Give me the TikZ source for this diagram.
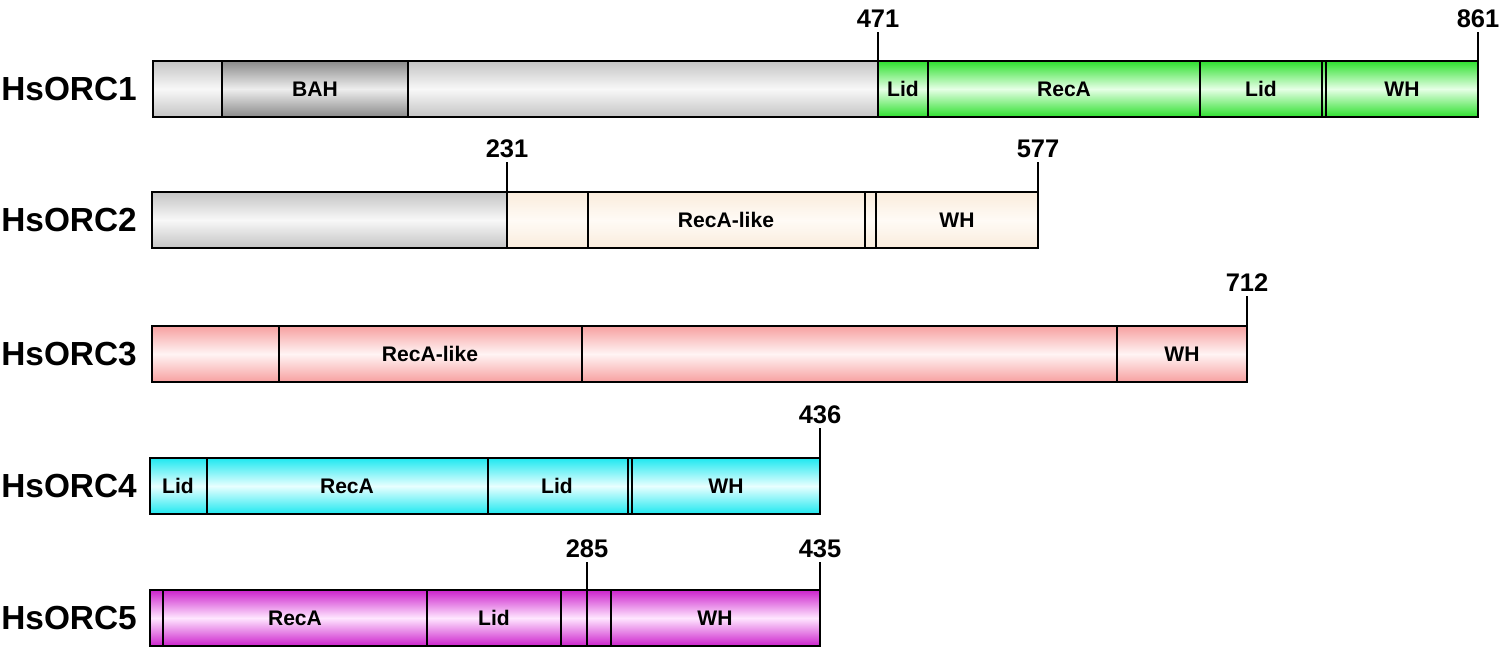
\documentclass[tikz,border=0pt]{standalone}
\usepackage{fontspec}
\setmainfont{Liberation Sans}
\definecolor{gE}{HTML}{C4C4C4}
\definecolor{gM}{HTML}{F8F8F8}
\definecolor{bE}{HTML}{8A8A8A}
\definecolor{bM}{HTML}{EEEEEE}
\definecolor{grE}{HTML}{2EE02E}
\definecolor{grM}{HTML}{E6FFE6}
\definecolor{tE}{HTML}{FAECDC}
\definecolor{tM}{HTML}{FFFBF6}
\definecolor{pE}{HTML}{F7A0A0}
\definecolor{pM}{HTML}{FFF4F4}
\definecolor{cE}{HTML}{1EE8F0}
\definecolor{cM}{HTML}{E8FFFF}
\definecolor{mE}{HTML}{CC22CC}
\definecolor{mM}{HTML}{FFE6FF}
\tikzset{
  box/.style={draw=black, line width=1.3pt},
  sgray/.style={box, top color=gE, bottom color=gE, middle color=gM},
  sbah/.style={box, top color=bE, bottom color=bE, middle color=bM},
  sgreen/.style={box, top color=grE, bottom color=grE, middle color=grM},
  stan/.style={box, top color=tE, bottom color=tE, middle color=tM},
  spink/.style={box, top color=pE, bottom color=pE, middle color=pM},
  scyan/.style={box, top color=cE, bottom color=cE, middle color=cM},
  smag/.style={box, top color=mE, bottom color=mE, middle color=mM},
  dom/.style={font=\bfseries\fontsize{12}{14}\selectfont, inner sep=0pt},
  num/.style={font=\bfseries\fontsize{14.5}{16}\selectfont, anchor=south, inner sep=0pt},
  pname/.style={font=\bfseries\fontsize{19}{22}\selectfont, anchor=west, inner sep=0pt},
  tick/.style={line width=1.3pt}
}
\newcommand\seg[4]{\path[#4] (#1,#3) rectangle (#2,#3+56);}
\begin{document}
\begin{tikzpicture}[x=0.02cm, y=-0.02cm]
\useasboundingbox (0,0) rectangle (1500,653);
% ---------- HsORC1 ----------
\seg{153}{222}{61}{sgray}
\seg{222}{408}{61}{sbah}
\seg{408}{878}{61}{sgray}
\seg{878}{928}{61}{sgreen}
\seg{928}{1200}{61}{sgreen}
\seg{1200}{1322}{61}{sgreen}
\seg{1322}{1326}{61}{sgreen}
\seg{1326}{1478}{61}{sgreen}
\node[pname] (n1) at (1,89) {HsORC1};
\node[dom] (d1a) at (315,89) {BAH};
\node[dom] (d1b) at (903,89) {Lid};
\node[dom] (d1c) at (1064,89) {RecA};
\node[dom] (d1d) at (1261,89) {Lid};
\node[dom] (d1e) at (1402,89) {WH};
\coordinate (t1a) at (878,61); \coordinate (u1a) at (878,32);
\coordinate (t1b) at (1478,61); \coordinate (u1b) at (1478,32);
\draw[tick] (t1a) -- (u1a); \draw[tick] (t1b) -- (u1b);
\node[num] (l1a) at (878,28) {471};
\node[num] (l1b) at (1478,28) {861};
% ---------- HsORC2 ----------
\seg{152}{507}{192}{sgray}
\seg{507}{588}{192}{stan}
\seg{588}{865}{192}{stan}
\seg{865}{876}{192}{stan}
\seg{876}{1038}{192}{stan}
\node[pname] (n2) at (1,220) {HsORC2};
\node[dom] (d2a) at (726,220) {RecA-like};
\node[dom] (d2b) at (957,220) {WH};
\coordinate (t2a) at (507,192); \coordinate (u2a) at (507,162);
\coordinate (t2b) at (1038,192); \coordinate (u2b) at (1038,162);
\draw[tick] (t2a) -- (u2a); \draw[tick] (t2b) -- (u2b);
\node[num] (l2a) at (507,158) {231};
\node[num] (l2b) at (1038,158) {577};
% ---------- HsORC3 ----------
\seg{152}{279}{326}{spink}
\seg{279}{582}{326}{spink}
\seg{582}{1117}{326}{spink}
\seg{1117}{1247}{326}{spink}
\node[pname] (n3) at (1,354) {HsORC3};
\node[dom] (d3a) at (430,354) {RecA-like};
\node[dom] (d3b) at (1182,354) {WH};
\coordinate (t3a) at (1247,326); \coordinate (u3a) at (1247,296);
\draw[tick] (t3a) -- (u3a);
\node[num] (l3a) at (1247,292) {712};
% ---------- HsORC4 ----------
\seg{150}{207}{458}{scyan}
\seg{207}{488}{458}{scyan}
\seg{488}{628}{458}{scyan}
\seg{628}{632}{458}{scyan}
\seg{632}{820}{458}{scyan}
\node[pname] (n4) at (1,486) {HsORC4};
\node[dom] (d4a) at (178,486) {Lid};
\node[dom] (d4b) at (347,486) {RecA};
\node[dom] (d4c) at (557,486) {Lid};
\node[dom] (d4d) at (726,486) {WH};
\coordinate (t4a) at (820,458); \coordinate (u4a) at (820,428);
\draw[tick] (t4a) -- (u4a);
\node[num] (l4a) at (820,424) {436};
% ---------- HsORC5 ----------
\seg{150}{163}{590}{smag}
\seg{163}{427}{590}{smag}
\seg{427}{561}{590}{smag}
\seg{561}{587}{590}{smag}
\seg{587}{611}{590}{smag}
\seg{611}{820}{590}{smag}
\node[pname] (n5) at (1,618) {HsORC5};
\node[dom] (d5a) at (295,618) {RecA};
\node[dom] (d5b) at (494,618) {Lid};
\node[dom] (d5c) at (715,618) {WH};
\coordinate (t5a) at (587,590); \coordinate (u5a) at (587,562);
\coordinate (t5b) at (820,590); \coordinate (u5b) at (820,562);
\draw[tick] (t5a) -- (u5a); \draw[tick] (t5b) -- (u5b);
\node[num] (l5a) at (587,558) {285};
\node[num] (l5b) at (820,558) {435};
\end{tikzpicture}
\end{document}
